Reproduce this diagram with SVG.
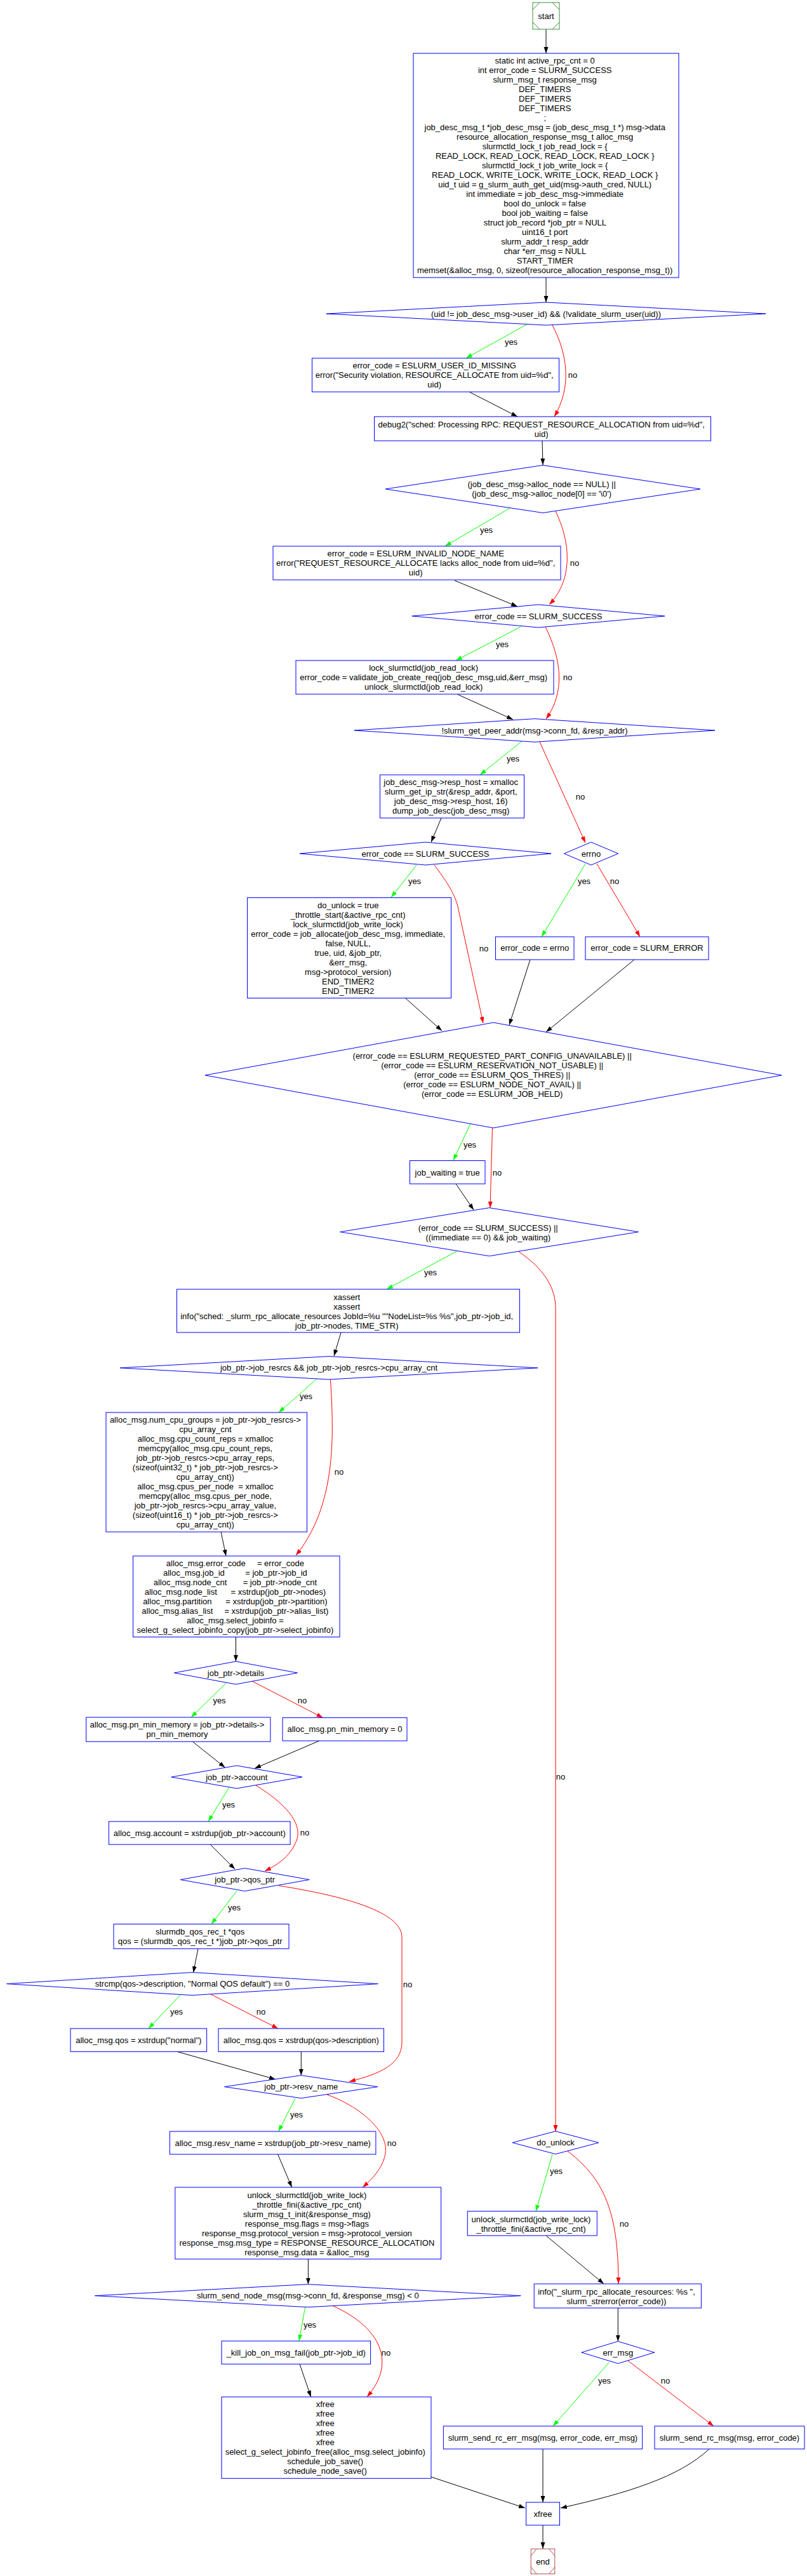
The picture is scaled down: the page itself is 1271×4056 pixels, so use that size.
<svg xmlns="http://www.w3.org/2000/svg" width="1271" height="4056" viewBox="0 0 1271 4056">
<style>
.n{fill:#fff;stroke:#0000ff;stroke-width:1}
.t{font-family:"Liberation Sans",Arial,sans-serif;font-size:13px;text-anchor:middle;fill:#000;white-space:pre}
.l{font-family:"Liberation Sans",Arial,sans-serif;font-size:13px;text-anchor:middle;fill:#000}
.e{fill:none;stroke:#000;stroke-width:1}
.g{stroke:#00ff00}
.r{stroke:#ff0000}
.k{marker-end:url(#ak)}
.g.m{marker-end:url(#ag)}
.r.m{marker-end:url(#ar)}
</style>
<defs>
<marker id="ak" markerUnits="userSpaceOnUse" markerWidth="10" markerHeight="8" refX="10" refY="3.5" orient="auto"><path d="M0,0 L10,3.5 L0,7 z" fill="#000"/></marker>
<marker id="ag" markerUnits="userSpaceOnUse" markerWidth="10" markerHeight="8" refX="10" refY="3.5" orient="auto"><path d="M0,0 L10,3.5 L0,7 z" fill="#00ff00"/></marker>
<marker id="ar" markerUnits="userSpaceOnUse" markerWidth="10" markerHeight="8" refX="10" refY="3.5" orient="auto"><path d="M0,0 L10,3.5 L0,7 z" fill="#ff0000"/></marker>
</defs>
<rect width="1271" height="4056" fill="#fff"/>

<g id="edges">
<path class="e k" d="M860,46 L860,84"/>
<path class="e k" d="M860,437 L860,476"/>
<path class="e g m" d="M831,510 L734,564"/>
<path class="e r m" d="M870,512 C895,560 900,610 873,656"/>
<path class="e k" d="M739,617 L815,656"/>
<path class="e k" d="M854,694 L855,732"/>
<path class="e g m" d="M803,800 L701,860"/>
<path class="e r m" d="M875,805 C897,850 905,910 865,952"/>
<path class="e k" d="M716,914 L815,955"/>
<path class="e g m" d="M820,987 L718,1040"/>
<path class="e r m" d="M859,987 C885,1040 890,1090 860,1132"/>
<path class="e k" d="M720,1093 L808,1133"/>
<path class="e g m" d="M822,1167 L756,1220"/>
<path class="e r m" d="M850,1168 L922,1327"/>
<path class="e k" d="M695,1288 L679,1326"/>
<path class="e g m" d="M656,1362 L616,1413"/>
<path class="e r m" d="M684,1362 C705,1390 718,1410 722,1432 L761,1611"/>
<path class="e g m" d="M922,1360 L853,1475"/>
<path class="e r m" d="M940,1360 L1008,1475"/>
<path class="e k" d="M639,1572 L696,1623"/>
<path class="e k" d="M835,1511 L802,1614"/>
<path class="e k" d="M999,1511 L860,1625"/>
<path class="e g m" d="M741,1769 L714,1827"/>
<path class="e r m" d="M775.5,1776 L772,1902"/>
<path class="e k" d="M718,1864 L746,1905"/>
<path class="e g m" d="M719.5,1970 L609,2030"/>
<path class="e r m" d="M816,1970 C860,2000 875,2030 875,2060 L875,3356"/>
<path class="e k" d="M537,2098 L526,2135"/>
<path class="e g m" d="M499,2171 L439,2224"/>
<path class="e r m" d="M520.5,2172 C526,2260 530,2370 466,2449"/>
<path class="e k" d="M348,2412 L356,2450"/>
<path class="e k" d="M371.5,2578 L371.4,2616"/>
<path class="e g m" d="M356,2650 L301,2704"/>
<path class="e r m" d="M397,2647 L508.5,2704.6"/>
<path class="e k" d="M303,2742 L354.5,2783"/>
<path class="e k" d="M504,2740.5 L401,2784.5"/>
<path class="e g m" d="M361,2814 L328,2868"/>
<path class="e r m" d="M403,2811 C450,2840 475,2870 468,2895 C460,2920 440,2935 417,2946"/>
<path class="e k" d="M331,2904 L370,2943"/>
<path class="e g m" d="M373,2977 L333,3029.5"/>
<path class="e r m" d="M439,2969 C540,2985 633,3010 633,3050 L633,3215 C633,3250 600,3265 550,3277.5"/>
<path class="e k" d="M312,3068 L304.5,3106"/>
<path class="e g m" d="M284,3141 L234,3194"/>
<path class="e r m" d="M330,3139 L438,3194"/>
<path class="e k" d="M279,3230.4 L434,3274"/>
<path class="e k" d="M474.3,3230.4 L474.3,3268"/>
<path class="e g m" d="M465,3304 L438.6,3356"/>
<path class="e r m" d="M515,3298 C575,3320 612,3360 607,3390 C604,3410 590,3428 571,3444"/>
<path class="e k" d="M437.5,3392 L459.7,3444"/>
<path class="e k" d="M485.4,3557 L485.4,3596.7"/>
<path class="e g m" d="M480.6,3632.7 L471,3686"/>
<path class="e r m" d="M524.5,3630.7 C600,3665 625,3720 578,3774"/>
<path class="e k" d="M472,3722.3 L489.7,3774"/>
<path class="e k" d="M679,3900 L827,3949"/>
<path class="e g m" d="M870,3392 L844,3481.7"/>
<path class="e r m" d="M894,3387 C950,3430 974,3480 974,3596"/>
<path class="e k" d="M860,3520 L951,3596"/>
<path class="e k" d="M973.3,3634 L973.3,3686.5"/>
<path class="e g m" d="M959,3720 L871,3820"/>
<path class="e r m" d="M989,3717 L1124,3820"/>
<path class="e k" d="M855,3856 L855,3940"/>
<path class="e k" d="M1117,3856 C1070,3900 990,3925 883,3949"/>
<path class="e k" d="M855,3976 L855,4013"/>
<g class="l">
<text x="805" y="542.5">yes</text>
<text x="902" y="595">no</text>
<text x="766" y="838.5">yes</text>
<text x="905" y="891">no</text>
<text x="791" y="1018.5">yes</text>
<text x="894" y="1071">no</text>
<text x="808" y="1198.5">yes</text>
<text x="914" y="1258.5">no</text>
<text x="653" y="1392">yes</text>
<text x="762" y="1498">no</text>
<text x="920" y="1392">yes</text>
<text x="968" y="1392">no</text>
<text x="740" y="1807">yes</text>
<text x="783" y="1850.5">no</text>
<text x="678" y="2008">yes</text>
<text x="883" y="2802">no</text>
<text x="482" y="2202.5">yes</text>
<text x="534" y="2322">no</text>
<text x="345.5" y="2682">yes</text>
<text x="476" y="2682">no</text>
<text x="360" y="2846">yes</text>
<text x="480" y="2890">no</text>
<text x="369" y="3008">yes</text>
<text x="642" y="3128.5">no</text>
<text x="278" y="3172">yes</text>
<text x="411" y="3172">no</text>
<text x="467" y="3334">yes</text>
<text x="617" y="3378.5">no</text>
<text x="876" y="3423">yes</text>
<text x="983" y="3505.5">no</text>
<text x="488" y="3664.5">yes</text>
<text x="608" y="3708.5">no</text>
<text x="952" y="3753">yes</text>
<text x="1048" y="3753">no</text>
</g>
</g>

<g id="n_start">
<rect x="839" y="4" width="42" height="42" fill="#fff" stroke="#3c8f3c"/>
<path d="M839,15 L850,4 M870,4 L881,15 M881,35 L870,46 M850,46 L839,35" fill="none" stroke="#3c8f3c"/>
<text class="t" x="860" y="29.5">start</text>
</g>

<g id="n_init">
<rect class="n" x="651" y="84" width="418" height="353"/>
<text class="t">
<tspan x="860" y="100.2">static int active_rpc_cnt = 0</tspan>
<tspan x="860" y="115.2">int error_code = SLURM_SUCCESS</tspan>
<tspan x="860" y="130.2">slurm_msg_t response_msg</tspan>
<tspan x="860" y="145.2">DEF_TIMERS</tspan>
<tspan x="860" y="160.2">DEF_TIMERS</tspan>
<tspan x="860" y="175.2">DEF_TIMERS</tspan>
<tspan x="860" y="190.2">;</tspan>
<tspan x="860" y="205.2">job_desc_msg_t *job_desc_msg = (job_desc_msg_t *) msg-&gt;data</tspan>
<tspan x="860" y="220.2">resource_allocation_response_msg_t alloc_msg</tspan>
<tspan x="860" y="235.2">slurmctld_lock_t job_read_lock = {</tspan>
<tspan x="860" y="250.2">READ_LOCK, READ_LOCK, READ_LOCK, READ_LOCK }</tspan>
<tspan x="860" y="265.2">slurmctld_lock_t job_write_lock = {</tspan>
<tspan x="860" y="280.2">READ_LOCK, WRITE_LOCK, WRITE_LOCK, READ_LOCK }</tspan>
<tspan x="860" y="295.2">uid_t uid = g_slurm_auth_get_uid(msg-&gt;auth_cred, NULL)</tspan>
<tspan x="860" y="310.2">int immediate = job_desc_msg-&gt;immediate</tspan>
<tspan x="860" y="325.2">bool do_unlock = false</tspan>
<tspan x="860" y="340.2">bool job_waiting = false</tspan>
<tspan x="860" y="355.2">struct job_record *job_ptr = NULL</tspan>
<tspan x="860" y="370.2">uint16_t port</tspan>
<tspan x="860" y="385.2">slurm_addr_t resp_addr</tspan>
<tspan x="860" y="400.2">char *err_msg = NULL</tspan>
<tspan x="860" y="415.2">START_TIMER</tspan>
<tspan x="860" y="430.2">memset(&amp;alloc_msg, 0, sizeof(resource_allocation_response_msg_t))</tspan>
</text>
</g>

<g id="n_d_uid">
<polygon class="n" points="514,494 860,476 1206,494 860,512"/>
<text class="t" x="860" y="498.5">(uid != job_desc_msg-&gt;user_id) &amp;&amp; (!validate_slurm_user(uid))</text>
</g>

<g id="n_err_uid">
<rect class="n" x="491.5" y="564" width="389" height="53"/>
<text class="t">
<tspan x="686" y="580">error_code = ESLURM_USER_ID_MISSING</tspan>
<tspan x="686" y="595">error("Security violation, RESOURCE_ALLOCATE from uid=%d",</tspan>
<tspan x="686" y="610">uid)</tspan>
</text>
</g>

<g id="n_debug">
<rect class="n" x="589.5" y="656" width="530" height="38"/>
<text class="t">
<tspan x="854.5" y="672.8">debug2("sched: Processing RPC: REQUEST_RESOURCE_ALLOCATION from uid=%d",</tspan>
<tspan x="854.5" y="687.8">uid)</tspan>
</text>
</g>

<g id="n_d_alloc">
<polygon class="n" points="607,770 855,732.5 1103,770 855,807.5"/>
<text class="t">
<tspan x="855" y="767.2">(job_desc_msg-&gt;alloc_node == NULL) ||</tspan>
<tspan x="855" y="782.2">(job_desc_msg-&gt;alloc_node[0] == '\0')</tspan>
</text>
</g>

<g id="n_err_node">
<rect class="n" x="430" y="860" width="453" height="53"/>
<text class="t">
<tspan x="656.5" y="876.2">error_code = ESLURM_INVALID_NODE_NAME</tspan>
<tspan x="656.5" y="891.2">error("REQUEST_RESOURCE_ALLOCATE lacks alloc_node from uid=%d",</tspan>
<tspan x="656.5" y="906.2">uid)</tspan>
</text>
</g>

<g id="n_d_succ1">
<polygon class="n" points="649,970 848,952 1047,970 848,988"/>
<text class="t" x="848" y="974.5">error_code == SLURM_SUCCESS</text>
</g>

<g id="n_lock">
<rect class="n" x="466" y="1040" width="406" height="53"/>
<text class="t">
<tspan x="669" y="1056.2">lock_slurmctld(job_read_lock)</tspan>
<tspan x="669" y="1071.2">error_code = validate_job_create_req(job_desc_msg,uid,&amp;err_msg)</tspan>
<tspan x="669" y="1086.2">unlock_slurmctld(job_read_lock)</tspan>
</text>
</g>

<g id="n_d_peer">
<polygon class="n" points="558,1150 842,1131.7 1126,1150 842,1168.3"/>
<text class="t" x="842" y="1154.5">!slurm_get_peer_addr(msg-&gt;conn_fd, &amp;resp_addr)</text>
</g>

<g id="n_resp">
<rect class="n" x="598.5" y="1220" width="227" height="68"/>
<text class="t">
<tspan x="712" y="1236.2">job_desc_msg-&gt;resp_host = xmalloc</tspan>
<tspan x="712" y="1251.2">slurm_get_ip_str(&amp;resp_addr, &amp;port,</tspan>
<tspan x="712" y="1266.2">job_desc_msg-&gt;resp_host, 16)</tspan>
<tspan x="712" y="1281.2">dump_job_desc(job_desc_msg)</tspan>
</text>
</g>

<g id="n_d_succ2">
<polygon class="n" points="472,1344 670,1326 868,1344 670,1362"/>
<text class="t" x="670" y="1348.5">error_code == SLURM_SUCCESS</text>
</g>

<g id="n_d_errno">
<polygon class="n" points="888.5,1344 931,1326 973.5,1344 931,1362"/>
<text class="t" x="931" y="1348.5">errno</text>
</g>

<g id="n_alloc_job">
<rect class="n" x="389.5" y="1413.5" width="321" height="158"/>
<text class="t">
<tspan x="550" y="1430.2">do_unlock = true</tspan>
<tspan x="550" y="1445.2">_throttle_start(&amp;active_rpc_cnt)</tspan>
<tspan x="550" y="1460.2">lock_slurmctld(job_write_lock)</tspan>
<tspan x="550" y="1475.2">error_code = job_allocate(job_desc_msg, immediate,</tspan>
<tspan x="550" y="1490.2">false, NULL,</tspan>
<tspan x="550" y="1505.2">true, uid, &amp;job_ptr,</tspan>
<tspan x="550" y="1520.2">&amp;err_msg,</tspan>
<tspan x="550" y="1535.2">msg-&gt;protocol_version)</tspan>
<tspan x="550" y="1550.2">END_TIMER2</tspan>
<tspan x="550" y="1565.2">END_TIMER2</tspan>
</text>
</g>

<g id="n_errno_box">
<rect class="n" x="780.5" y="1475" width="123.5" height="36"/>
<text class="t" x="842.2" y="1497.2">error_code = errno</text>
</g>

<g id="n_slurm_error">
<rect class="n" x="922" y="1475" width="194" height="36"/>
<text class="t" x="1019" y="1497.2">error_code = SLURM_ERROR</text>
</g>

<g id="n_d_big">
<polygon class="n" points="323,1693 777,1610 1231,1693 777,1776"/>
<text class="t">
<tspan x="777" y="1667.2">(error_code == ESLURM_REQUESTED_PART_CONFIG_UNAVAILABLE) ||</tspan>
<tspan x="777" y="1682.2">(error_code == ESLURM_RESERVATION_NOT_USABLE) ||</tspan>
<tspan x="777" y="1697.2">(error_code == ESLURM_QOS_THRES) ||</tspan>
<tspan x="777" y="1712.2">(error_code == ESLURM_NODE_NOT_AVAIL) ||</tspan>
<tspan x="777" y="1727.2">(error_code == ESLURM_JOB_HELD)</tspan>
</text>
</g>

<g id="n_job_waiting">
<rect class="n" x="645.5" y="1827.5" width="118.5" height="36.5"/>
<text class="t" x="704.7" y="1850.5">job_waiting = true</text>
</g>

<g id="n_d_success_or">
<polygon class="n" points="535.6,1939.7 770.6,1901.7 1005.6,1939.7 770.6,1977.7"/>
<text class="t">
<tspan x="770.6" y="1937.8">(error_code == SLURM_SUCCESS) ||</tspan>
<tspan x="770.6" y="1952.8">((immediate == 0) &amp;&amp; job_waiting)</tspan>
</text>
</g>

<g id="n_xassert">
<rect class="n" x="278.5" y="2030" width="540" height="68"/>
<text class="t">
<tspan x="548" y="2046.5">xassert</tspan>
<tspan x="548" y="2061.5">xassert</tspan>
<tspan x="548" y="2076.5">info("sched: _slurm_rpc_allocate_resources JobId=%u ""NodeList=%s %s",job_ptr-&gt;job_id,</tspan>
<tspan x="548" y="2091.5">job_ptr-&gt;nodes, TIME_STR)</tspan>
</text>
</g>

<g id="n_d_resrcs">
<polygon class="n" points="189,2153.8 518,2135.6 847,2153.8 518,2172"/>
<text class="t" x="518" y="2158.3">job_ptr-&gt;job_resrcs &amp;&amp; job_ptr-&gt;job_resrcs-&gt;cpu_array_cnt</text>
</g>

<g id="n_cpu">
<rect class="n" x="167" y="2224" width="316.5" height="188"/>
<text class="t">
<tspan x="325.2" y="2240.1">alloc_msg.num_cpu_groups = job_ptr-&gt;job_resrcs-&gt;</tspan>
<tspan x="325.2" y="2255.1">cpu_array_cnt</tspan>
<tspan x="325.2" y="2270.1">alloc_msg.cpu_count_reps = xmalloc</tspan>
<tspan x="325.2" y="2285.1">memcpy(alloc_msg.cpu_count_reps,</tspan>
<tspan x="325.2" y="2300.1">job_ptr-&gt;job_resrcs-&gt;cpu_array_reps,</tspan>
<tspan x="325.2" y="2315.1">(sizeof(uint32_t) * job_ptr-&gt;job_resrcs-&gt;</tspan>
<tspan x="325.2" y="2330.1">cpu_array_cnt))</tspan>
<tspan x="325.2" y="2345.1">alloc_msg.cpus_per_node  = xmalloc</tspan>
<tspan x="325.2" y="2360.1">memcpy(alloc_msg.cpus_per_node,</tspan>
<tspan x="325.2" y="2375.1">job_ptr-&gt;job_resrcs-&gt;cpu_array_value,</tspan>
<tspan x="325.2" y="2390.1">(sizeof(uint16_t) * job_ptr-&gt;job_resrcs-&gt;</tspan>
<tspan x="325.2" y="2405.1">cpu_array_cnt))</tspan>
</text>
</g>

<g id="n_alloc">
<rect class="n" x="209.5" y="2450" width="325.5" height="127.5"/>
<text class="t">
<tspan x="372.2" y="2465.8">alloc_msg.error_code     = error_code</tspan>
<tspan x="372.2" y="2480.8">alloc_msg.job_id         = job_ptr-&gt;job_id</tspan>
<tspan x="372.2" y="2495.8">alloc_msg.node_cnt       = job_ptr-&gt;node_cnt</tspan>
<tspan x="372.2" y="2510.8">alloc_msg.node_list      = xstrdup(job_ptr-&gt;nodes)</tspan>
<tspan x="372.2" y="2525.8">alloc_msg.partition      = xstrdup(job_ptr-&gt;partition)</tspan>
<tspan x="372.2" y="2540.8">alloc_msg.alias_list     = xstrdup(job_ptr-&gt;alias_list)</tspan>
<tspan x="372.2" y="2555.8">alloc_msg.select_jobinfo =</tspan>
<tspan x="372.2" y="2570.8">select_g_select_jobinfo_copy(job_ptr-&gt;select_jobinfo)</tspan>
</text>
</g>

<g id="n_d_details">
<polygon class="n" points="274.4,2634 371.4,2616 468.4,2634 371.4,2652"/>
<text class="t" x="371.4" y="2638.5">job_ptr-&gt;details</text>
</g>

<g id="n_pnmin">
<rect class="n" x="135.7" y="2704" width="290.2" height="38.2"/>
<text class="t">
<tspan x="280.8" y="2720.2">alloc_msg.pn_min_memory = job_ptr-&gt;details-&gt;</tspan>
<tspan x="280.8" y="2735.2">pn_min_memory</tspan>
</text>
</g>

<g id="n_pnmin0">
<rect class="n" x="445" y="2704.6" width="196" height="36.4"/>
<text class="t" x="543" y="2727">alloc_msg.pn_min_memory = 0</text>
</g>

<g id="n_d_account">
<polygon class="n" points="269.8,2798 372.8,2780 475.8,2798 372.8,2816"/>
<text class="t" x="372.8" y="2802.5">job_ptr-&gt;account</text>
</g>

<g id="n_account">
<rect class="n" x="171.4" y="2868" width="285.7" height="36.2"/>
<text class="t" x="314.3" y="2890.5">alloc_msg.account = xstrdup(job_ptr-&gt;account)</text>
</g>

<g id="n_d_qos">
<polygon class="n" points="284.1,2959.6 385.7,2941.6 487.3,2959.6 385.7,2977.6"/>
<text class="t" x="385.7" y="2964">job_ptr-&gt;qos_ptr</text>
</g>

<g id="n_qos">
<rect class="n" x="179" y="3029.5" width="276" height="38.8"/>
<text class="t">
<tspan x="317" y="3046">slurmdb_qos_rec_t *qos</tspan>
<tspan x="317" y="3061">qos = (slurmdb_qos_rec_t *)job_ptr-&gt;qos_ptr</tspan>
</text>
</g>

<g id="n_d_strcmp">
<polygon class="n" points="10.5,3123.6 303,3105.6 595.5,3123.6 303,3141.6"/>
<text class="t" x="303" y="3128">strcmp(qos-&gt;description, "Normal QOS default") == 0</text>
</g>

<g id="n_normal">
<rect class="n" x="111" y="3194" width="214.6" height="36.4"/>
<text class="t" x="218.3" y="3216.5">alloc_msg.qos = xstrdup("normal")</text>
</g>

<g id="n_desc">
<rect class="n" x="344" y="3194" width="260.5" height="36.4"/>
<text class="t" x="474.3" y="3216.5">alloc_msg.qos = xstrdup(qos-&gt;description)</text>
</g>

<g id="n_d_resv">
<polygon class="n" points="353.6,3285.7 474.3,3267.7 595,3285.7 474.3,3303.7"/>
<text class="t" x="474.3" y="3290.2">job_ptr-&gt;resv_name</text>
</g>

<g id="n_resv">
<rect class="n" x="267.4" y="3356" width="324.5" height="36"/>
<text class="t" x="429.7" y="3378.5">alloc_msg.resv_name = xstrdup(job_ptr-&gt;resv_name)</text>
</g>

<g id="n_unlock_big">
<rect class="n" x="275.8" y="3444" width="418.8" height="113"/>
<text class="t">
<tspan x="485.2" y="3460.5">unlock_slurmctld(job_write_lock)</tspan>
<tspan x="485.2" y="3475.5">_throttle_fini(&amp;active_rpc_cnt)</tspan>
<tspan x="485.2" y="3490.5">slurm_msg_t_init(&amp;response_msg)</tspan>
<tspan x="485.2" y="3505.5">response_msg.flags = msg-&gt;flags</tspan>
<tspan x="485.2" y="3520.5">response_msg.protocol_version = msg-&gt;protocol_version</tspan>
<tspan x="485.2" y="3535.5">response_msg.msg_type = RESPONSE_RESOURCE_ALLOCATION</tspan>
<tspan x="485.2" y="3550.5">response_msg.data = &amp;alloc_msg</tspan>
</text>
</g>

<g id="n_d_send">
<polygon class="n" points="149.4,3614.7 484.8,3596.7 820.2,3614.7 484.8,3632.7"/>
<text class="t" x="484.8" y="3619.2">slurm_send_node_msg(msg-&gt;conn_fd, &amp;response_msg) &lt; 0</text>
</g>

<g id="n_kill">
<rect class="n" x="349" y="3686" width="234.6" height="36.3"/>
<text class="t" x="466.3" y="3708.5">_kill_job_on_msg_fail(job_ptr-&gt;job_id)</text>
</g>

<g id="n_xfree_big">
<rect class="n" x="349" y="3774" width="330" height="128.3"/>
<text class="t">
<tspan x="514" y="3790.2">xfree</tspan>
<tspan x="514" y="3805.2">xfree</tspan>
<tspan x="514" y="3820.2">xfree</tspan>
<tspan x="514" y="3835.2">xfree</tspan>
<tspan x="514" y="3850.2">xfree</tspan>
<tspan x="514" y="3865.2">select_g_select_jobinfo_free(alloc_msg.select_jobinfo)</tspan>
<tspan x="514" y="3880.2">schedule_job_save()</tspan>
<tspan x="514" y="3895.2">schedule_node_save()</tspan>
</text>
</g>

<g id="n_d_do_unlock">
<polygon class="n" points="807,3373.7 875,3355.7 943,3373.7 875,3391.7"/>
<text class="t" x="875" y="3378.2">do_unlock</text>
</g>

<g id="n_unlock_small">
<rect class="n" x="736.3" y="3481.7" width="204" height="38.3"/>
<text class="t">
<tspan x="838.3" y="3498.5">unlock_slurmctld(job_write_lock)</tspan>
<tspan x="838.3" y="3513.5">_throttle_fini(&amp;active_rpc_cnt)</tspan>
</text>
</g>

<g id="n_info">
<rect class="n" x="841.2" y="3596" width="263.2" height="38"/>
<text class="t">
<tspan x="972.8" y="3612.5">info("_slurm_rpc_allocate_resources: %s ",</tspan>
<tspan x="972.8" y="3627.5">slurm_strerror(error_code))</tspan>
</text>
</g>

<g id="n_d_errmsg">
<polygon class="n" points="915.9,3704 973.3,3686.5 1030.7,3704 973.3,3721.5"/>
<text class="t" x="973.3" y="3708.5">err_msg</text>
</g>

<g id="n_rc_err">
<rect class="n" x="698.4" y="3820" width="313.2" height="36"/>
<text class="t" x="855" y="3842.5">slurm_send_rc_err_msg(msg, error_code, err_msg)</text>
</g>

<g id="n_rc">
<rect class="n" x="1031" y="3820" width="236" height="36"/>
<text class="t" x="1149" y="3842.5">slurm_send_rc_msg(msg, error_code)</text>
</g>

<g id="n_xfree_small">
<rect class="n" x="828.6" y="3940" width="52.9" height="36"/>
<text class="t" x="855" y="3962.5">xfree</text>
</g>

<g id="n_end">
<rect x="836.2" y="4013.3" width="37.6" height="39.4" fill="#fff" stroke="#b05050"/>
<path d="M836.2,4024.3 L845.2,4013.3 M864.8,4013.3 L873.8,4024.3 M873.8,4041.7 L864.8,4052.7 M845.2,4052.7 L836.2,4041.7" fill="none" stroke="#b05050"/>
<text class="t" x="855" y="4037.5">end</text>
</g>
</svg>
